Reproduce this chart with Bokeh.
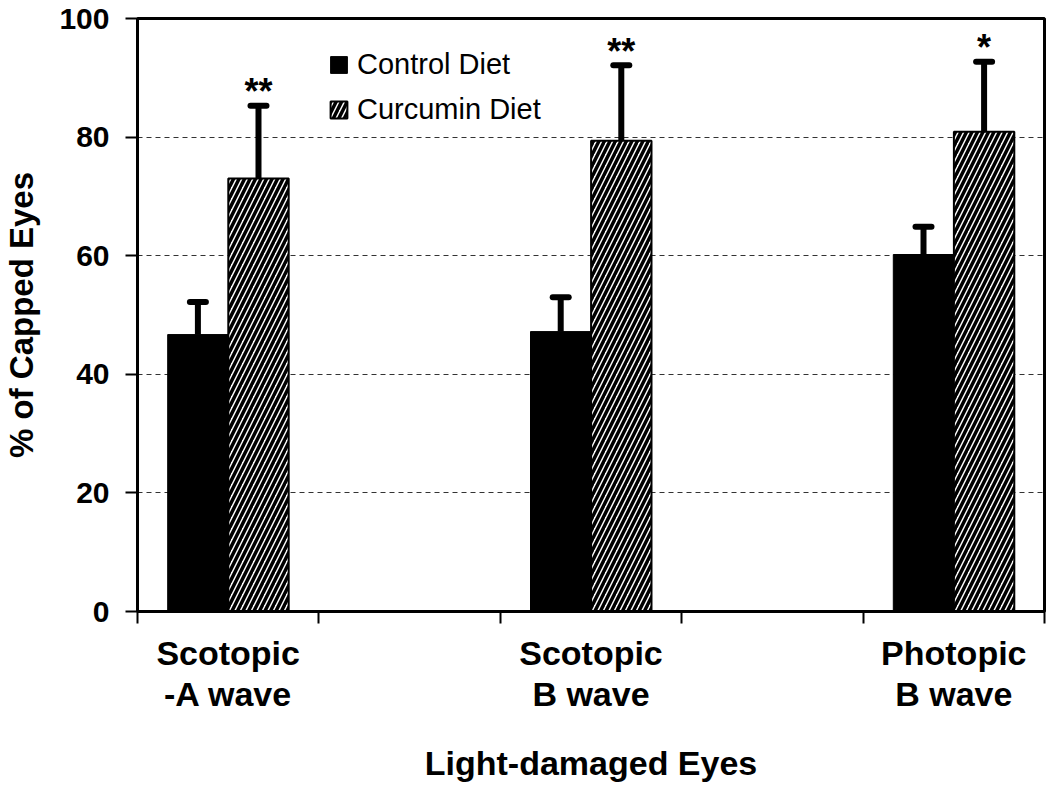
from bokeh.plotting import figure
from bokeh.models import (ColumnDataSource, FixedTicker, Whisker, TeeHead, Legend, LegendItem, Range1d)
from bokeh.core.properties import value
from bokeh.embed import file_html
from bokeh.resources import INLINE

# ---- data ----
categories = ["Scotopic\n-A wave", "Scotopic\nB wave", "Photopic\nB wave"]
cat_pos = [1, 3, 5]
control = [46.7, 47.2, 60.2]
control_err = [5.5, 5.8, 4.7]
curcumin = [73.0, 79.4, 80.9]
curcumin_err = [12.3, 12.7, 11.8]
stars = ["**", "**", "*"]
y_ticks = [0, 20, 40, 60, 80, 100]

FONT = "Liberation Sans"
offset = 0.167
bar_w = 0.333

ctrl_x = [c - offset for c in cat_pos]
cur_x = [c + offset for c in cat_pos]

src_ctrl = ColumnDataSource(dict(x=ctrl_x, top=control,
                                 upper=[a + b for a, b in zip(control, control_err)]))
src_cur = ColumnDataSource(dict(x=cur_x, top=curcumin,
                                upper=[a + b for a, b in zip(curcumin, curcumin_err)],
                                star=stars))

p = figure(width=1046, height=785, output_backend="svg", toolbar_location=None,
           x_range=Range1d(0.5, 5.5), y_range=Range1d(0, 100),
           min_border_left=128, min_border_right=2, min_border_top=18, min_border_bottom=174)

p.outline_line_color = "black"
p.outline_line_width = 3
p.outline_line_alpha = 1

r1 = p.vbar(x="x", top="top", width=bar_w, source=src_ctrl, fill_color="black", line_color="black", line_width=1)
r2 = p.vbar(x="x", top="top", width=bar_w, source=src_cur, fill_color="white", line_color="black", line_width=2,
            hatch_pattern="/", hatch_color="black", hatch_scale=11, hatch_weight=3.5)

for src in (src_ctrl, src_cur):
    w = Whisker(source=src, base="x", lower="top", upper="upper", dimension="height",
                line_width=6, line_color="black", lower_head=None,
                upper_head=TeeHead(size=16, line_width=6, line_color="black", line_cap="round"))
    p.add_layout(w)

p.text(x="x", y="upper", text="star", source=src_cur, text_align="center", text_baseline="alphabetic",
       y_offset=-14, text_font=value(FONT), text_font_style="bold", text_font_size="36px", text_color="black")

# grid
p.xgrid.visible = False
p.ygrid.ticker = FixedTicker(ticks=[20, 40, 60, 80])
p.ygrid.grid_line_color = "#333333"
p.ygrid.grid_line_dash = "5 4"
p.ygrid.grid_line_width = 1

# y axis
p.yaxis.ticker = FixedTicker(ticks=y_ticks)
p.yaxis.axis_line_width = 3
p.yaxis.major_tick_line_width = 2
p.yaxis.major_tick_out = 12
p.yaxis.major_tick_in = 0
p.yaxis.minor_tick_line_color = None
p.yaxis.major_label_standoff = 16
p.yaxis.major_label_text_font = FONT
p.yaxis.major_label_text_font_style = "bold"
p.yaxis.major_label_text_font_size = "30px"
p.yaxis.major_label_text_color = "black"
p.yaxis.axis_label = "% of Capped Eyes"
p.yaxis.axis_label_text_font = FONT
p.yaxis.axis_label_text_font_style = "bold"
p.yaxis.axis_label_text_font_size = "33px"
p.yaxis.axis_label_text_color = "black"
p.yaxis.axis_label_standoff = 16

# x axis
p.xaxis.ticker = FixedTicker(ticks=cat_pos, minor_ticks=[0.5, 1.5, 2.5, 3.5, 4.5, 5.5])
p.xaxis.major_label_overrides = {c: lab for c, lab in zip(cat_pos, categories)}
p.xaxis.axis_line_width = 3
p.xaxis.major_tick_out = 0
p.xaxis.major_tick_in = 0
p.xaxis.minor_tick_out = 12
p.xaxis.minor_tick_in = 0
p.xaxis.minor_tick_line_width = 2
p.xaxis.major_label_standoff = 10
p.xaxis.major_label_text_font = FONT
p.xaxis.major_label_text_font_style = "bold"
p.xaxis.major_label_text_font_size = "34px"
p.xaxis.major_label_text_color = "black"
p.xaxis.major_label_text_line_height = 1.1
p.xaxis.axis_label = "Light-damaged Eyes"
p.xaxis.axis_label_text_font = FONT
p.xaxis.axis_label_text_font_style = "bold"
p.xaxis.axis_label_text_font_size = "34px"
p.xaxis.axis_label_text_color = "black"
p.xaxis.axis_label_standoff = 28

legend = Legend(items=[LegendItem(label="Control Diet", renderers=[r1]),
                       LegendItem(label="Curcumin Diet", renderers=[r2])],
                location=(191, 485), padding=0, margin=0, spacing=12,
                glyph_width=21, glyph_height=21, label_height=21, label_standoff=8,
                label_text_font=FONT, label_text_font_size="29px", label_text_color="black",
                border_line_color=None, background_fill_alpha=0)
p.add_layout(legend)

open("out.html", "w").write(file_html(p, INLINE))
